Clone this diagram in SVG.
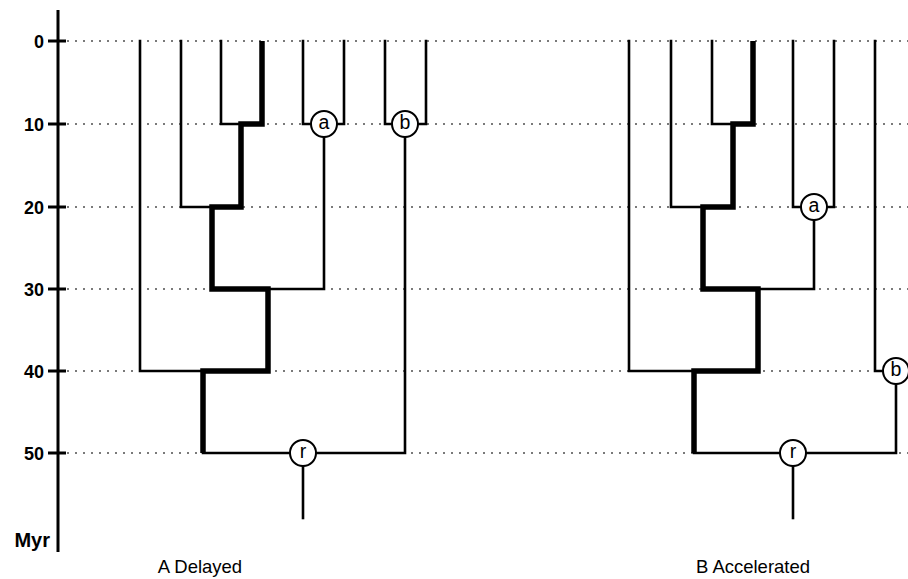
<svg xmlns="http://www.w3.org/2000/svg" width="908" height="579" viewBox="0 0 908 579">
<style>
.grid{stroke:#7a7a7a;stroke-width:2;stroke-dasharray:2 6;fill:none}
.thin{stroke:#000;stroke-width:2.6;fill:none;stroke-linejoin:miter;stroke-linecap:square}
.thick{stroke:#000;stroke-width:5.5;fill:none;stroke-linejoin:miter;stroke-linecap:butt}
.axis{stroke:#000;stroke-width:3;fill:none}
.num{font-family:"Liberation Sans",Arial,sans-serif;font-weight:bold;font-size:18px;text-anchor:end}
.cap{font-family:"Liberation Sans",Arial,sans-serif;font-size:18.5px;text-anchor:middle}
.node circle{fill:#fff;stroke:#000;stroke-width:2}
.node text{font-family:"Liberation Sans",Arial,sans-serif;font-size:19.5px;text-anchor:middle}
</style>
<rect width="908" height="579" fill="#fff"/>
<g id="grid">
<line class="grid" x1="67" y1="41" x2="908" y2="41"/>
<line class="grid" x1="67" y1="124" x2="908" y2="124"/>
<line class="grid" x1="67" y1="207" x2="908" y2="207"/>
<line class="grid" x1="67" y1="289" x2="908" y2="289"/>
<line class="grid" x1="67" y1="371" x2="908" y2="371"/>
<line class="grid" x1="67" y1="453" x2="908" y2="453"/>
</g>
<g id="axis">
<line class="axis" x1="58" y1="10" x2="58" y2="552"/>
<g class="axis">
<line x1="48" y1="41" x2="66" y2="41"/>
<line x1="48" y1="124" x2="66" y2="124"/>
<line x1="48" y1="207" x2="66" y2="207"/>
<line x1="48" y1="289" x2="66" y2="289"/>
<line x1="48" y1="371" x2="66" y2="371"/>
<line x1="48" y1="453" x2="66" y2="453"/>
</g>
<text class="num" x="44" y="47.5">0</text>
<text class="num" x="44" y="130.5">10</text>
<text class="num" x="44" y="213.5">20</text>
<text class="num" x="44" y="295.5">30</text>
<text class="num" x="44" y="377.5">40</text>
<text class="num" x="44" y="459.5">50</text>
<text class="num" x="50" y="547" style="font-size:20px">Myr</text>
</g>
<g id="connectors">
<polyline class="thin" points="140,41 140,371 203,371"/>
<polyline class="thin" points="181,41 181,207 212,207"/>
<polyline class="thin" points="221,41 221,124 241,124"/>
<polyline class="thin" points="303,41 303,124 344,124 344,41"/>
<polyline class="thin" points="324,124 324,289 268,289"/>
<polyline class="thin" points="385,41 385,124 426,124 426,41"/>
<polyline class="thin" points="405,124 405,453 203,453"/>
<polyline class="thin" points="303,453 303,518"/>
<polyline class="thick" points="262,41 262,124 241,124 241,207 212,207 212,289 268,289 268,371 203,371 203,453"/>
<polyline class="thin" points="629,41 629,371 694,371"/>
<polyline class="thin" points="671,41 671,207 703,207"/>
<polyline class="thin" points="712,41 712,124 733,124"/>
<polyline class="thin" points="793,41 793,207 834,207 834,41"/>
<polyline class="thin" points="814,207 814,289 758,289"/>
<polyline class="thin" points="875,41 875,371 896,371"/>
<polyline class="thin" points="896,371 896,453 694,453"/>
<polyline class="thin" points="793,453 793,518"/>
<polyline class="thick" points="753,41 753,124 733,124 733,207 703,207 703,289 758,289 758,371 694,371 694,453"/>
</g>
<g id="A-a" class="node"><circle cx="324" cy="124" r="13"/><text x="324" y="129">a</text></g>
<g id="A-b" class="node"><circle cx="405" cy="124" r="13"/><text x="405" y="129">b</text></g>
<g id="A-r" class="node"><circle cx="303" cy="453" r="13"/><text x="303" y="458">r</text></g>
<g id="B-a" class="node"><circle cx="814" cy="207" r="13"/><text x="814" y="212">a</text></g>
<g id="B-b" class="node"><circle cx="896" cy="371" r="13"/><text x="896" y="376">b</text></g>
<g id="B-r" class="node"><circle cx="793" cy="453" r="13"/><text x="793" y="458">r</text></g>
<text class="cap" x="200" y="573">A Delayed</text>
<text class="cap" x="753" y="573">B Accelerated</text>
</svg>
